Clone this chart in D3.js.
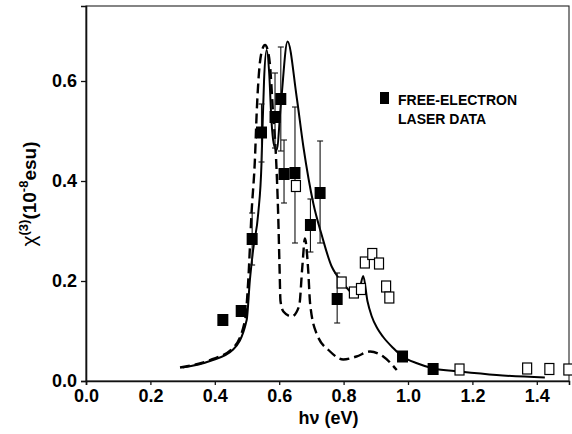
<!DOCTYPE html>
<html><head><meta charset="utf-8">
<script src="https://cdn.jsdelivr.net/npm/d3@7"></script>
<style>
body{margin:0;background:#fff;}
svg{display:block;}
text{font-family:"Liberation Sans",Arial,Helvetica,sans-serif;fill:#000;}
</style></head>
<body><svg id="c" width="572" height="434"></svg>
<script>
// ---- data ----
const xTicks = [0.0, 0.2, 0.4, 0.6, 0.8, 1.0, 1.2, 1.4];
const yTicks = [0.0, 0.2, 0.4, 0.6];
const xTickLabels = ["0.0","0.2","0.4","0.6","0.8","1.0","1.2","1.4"];
const yTickLabels = ["0.0","0.2","0.4","0.6"];

// theory curve (solid)
const solidX = [0.30,0.385,0.457,0.499,0.509,0.519,0.535,0.545,0.548,0.553,0.561,0.569,0.576,0.583,0.592,0.606,0.626,0.654,0.675,0.706,0.732,0.763,0.778,0.805,0.835,0.850,0.861,0.874,0.887,0.905,0.923,0.954,0.983,1.03,1.079,1.161,1.275,1.425];
const solidY = [0.027,0.040,0.063,0.122,0.202,0.262,0.336,0.435,0.502,0.602,0.662,0.615,0.520,0.475,0.462,0.560,0.679,0.569,0.469,0.355,0.292,0.229,0.212,0.190,0.172,0.185,0.210,0.160,0.130,0.105,0.088,0.066,0.049,0.035,0.025,0.019,0.012,0.007];

// theory curve (dashed)
const dashX = [0.292,0.385,0.457,0.494,0.504,0.514,0.525,0.530,0.537,0.546,0.556,0.565,0.571,0.581,0.590,0.597,0.601,0.604,0.613,0.639,0.662,0.672,0.680,0.690,0.696,0.716,0.758,0.799,0.840,0.882,0.923,0.965];
const dashY = [0.027,0.042,0.066,0.122,0.202,0.335,0.449,0.535,0.615,0.660,0.672,0.660,0.635,0.535,0.449,0.329,0.229,0.160,0.139,0.129,0.150,0.230,0.285,0.222,0.155,0.095,0.059,0.043,0.049,0.059,0.049,0.022];

// free-electron laser data (filled squares)
const felX  = [0.425,0.482,0.516,0.545,0.587,0.605,0.615,0.649,0.697,0.727,0.780,0.983,1.078];
const felY  = [0.122,0.140,0.284,0.497,0.528,0.564,0.414,0.416,0.312,0.376,0.164,0.049,0.024];
const felLo = [null,null,0.232,0.438,0.466,0.460,0.356,0.276,0.258,0.276,0.116,null,null];
const felHi = [null,null,0.336,0.554,0.616,0.668,0.482,0.548,0.364,0.480,0.216,null,null];

// other data (open squares)
const openX = [0.652,0.794,0.832,0.854,0.866,0.889,0.910,0.932,0.942,1.160,1.370,1.439,1.498];
const openY = [0.390,0.197,0.177,0.184,0.237,0.254,0.235,0.189,0.167,0.023,0.025,0.024,0.023];

const legendLines = ["FREE-ELECTRON","LASER DATA"];

// ---- chart ----
const svg = d3.select("#c");
const L = 86, R = 569, T = 6, B = 381;
const x = d3.scaleLinear().domain([0, 1.5]).range([L, R]);
const y = d3.scaleLinear().domain([0, 0.75]).range([B, T]);

// frame
svg.append("rect").attr("x", L).attr("y", T).attr("width", R - L).attr("height", B - T)
  .attr("fill", "none").attr("stroke", "#222").attr("stroke-width", 1.1);

// axes
const xAxis = d3.axisBottom(x).tickValues(xTicks).tickFormat((d,i)=>xTickLabels[i]).tickSize(4).tickPadding(4);
const gx = svg.append("g").attr("transform", `translate(0,${B})`).call(xAxis);
gx.select(".domain").attr("stroke", "#111").attr("stroke-width", 1.6);
gx.selectAll(".tick line").attr("stroke", "#111").attr("stroke-width", 1.3);
gx.selectAll(".tick text").attr("font-size", 18).attr("font-weight", "bold")
  .attr("font-family", "Liberation Sans, Arial, sans-serif").attr("fill", "#000");

const yAxis = d3.axisLeft(y).tickValues(yTicks).tickFormat((d,i)=>yTickLabels[i]).tickSize(5).tickPadding(4);
const gy = svg.append("g").attr("transform", `translate(${L},0)`).call(yAxis);
gy.select(".domain").attr("stroke", "#111").attr("stroke-width", 1.6);
gy.selectAll(".tick line").attr("stroke", "#111").attr("stroke-width", 1.3);
gy.selectAll(".tick text").attr("font-size", 18).attr("font-weight", "bold")
  .attr("font-family", "Liberation Sans, Arial, sans-serif").attr("fill", "#000");

// axis titles
svg.append("text").attr("x", (L + R) / 2 + 1).attr("y", 424).attr("text-anchor", "middle")
  .attr("font-size", 18).attr("font-weight", "bold").text("hν (eV)");

const yl = svg.append("text").attr("transform", "translate(36,194) rotate(-90)")
  .attr("text-anchor", "middle").attr("font-size", 19).attr("font-weight", "bold");
yl.append("tspan").attr("font-weight", "normal").attr("font-size", 21).text("χ");
yl.append("tspan").attr("dy", -8).attr("font-size", 13).text("(3)");
yl.append("tspan").attr("dy", 8).text("(10");
yl.append("tspan").attr("dy", -8).attr("font-size", 13).text("-8");
yl.append("tspan").attr("dy", 8).text("esu)");

// curves
const line = d3.line().x(d => x(d[0])).y(d => y(d[1])).curve(d3.curveMonotoneX);
svg.append("path").datum(dashX.map((v,i)=>[v, dashY[i]])).attr("d", line)
  .attr("fill", "none").attr("stroke", "#000").attr("stroke-width", 2.4)
  .attr("stroke-dasharray", "10,5");
svg.append("path").datum(solidX.map((v,i)=>[v, solidY[i]])).attr("d", line)
  .attr("fill", "none").attr("stroke", "#000").attr("stroke-width", 2);

// error bars
const eb = svg.append("g").attr("stroke", "#111").attr("stroke-width", 1.1);
felX.forEach((v,i) => {
  if (felLo[i] == null) return;
  const cx = x(v);
  eb.append("line").attr("x1", cx).attr("x2", cx).attr("y1", y(felLo[i])).attr("y2", y(felHi[i]));
  eb.append("line").attr("x1", cx - 3).attr("x2", cx + 3).attr("y1", y(felLo[i])).attr("y2", y(felLo[i]));
  eb.append("line").attr("x1", cx - 3).attr("x2", cx + 3).attr("y1", y(felHi[i])).attr("y2", y(felHi[i]));
});

// open squares
svg.append("g").selectAll("rect").data(openX.map((v,i)=>[v, openY[i]])).join("rect")
  .attr("x", d => x(d[0]) - 4.5).attr("y", d => y(d[1]) - 5.5)
  .attr("width", 9).attr("height", 11)
  .attr("fill", "#fff").attr("stroke", "#000").attr("stroke-width", 1.2);

// filled squares
svg.append("g").selectAll("rect").data(felX.map((v,i)=>[v, felY[i]])).join("rect")
  .attr("x", d => x(d[0]) - 5.5).attr("y", d => y(d[1]) - 6)
  .attr("width", 11).attr("height", 12).attr("fill", "#000");

// legend
svg.append("rect").attr("x", 380).attr("y", 92).attr("width", 9).attr("height", 12).attr("fill", "#000");
legendLines.forEach((t, i) => {
  svg.append("text").attr("x", 398).attr("y", 105 + i * 19).attr("font-size", 14)
    .attr("font-weight", "bold").text(t);
});
</script></body></html>
